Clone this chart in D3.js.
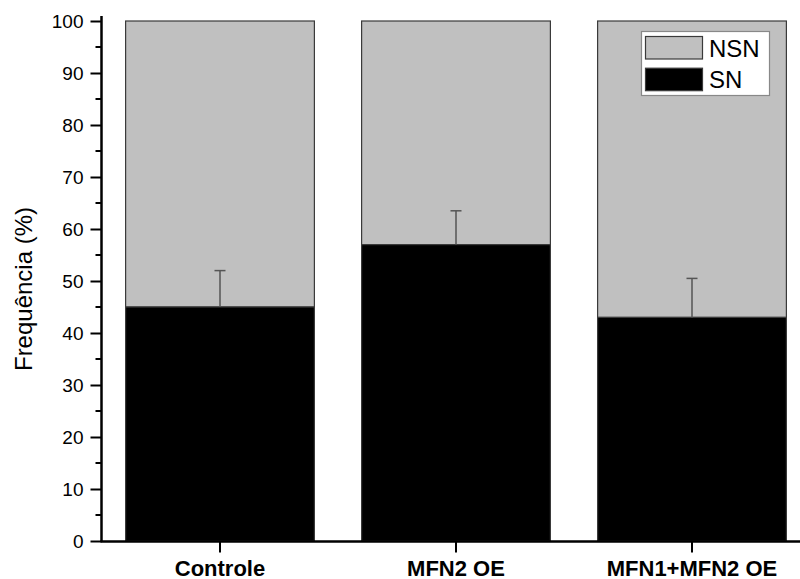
<!DOCTYPE html>
<html>
<head>
<meta charset="utf-8">
<script src="https://cdn.jsdelivr.net/npm/d3@7"></script>
<style>
  html, body { margin: 0; padding: 0; background: #fff; }
  svg { display: block; font-family: Arial, "Liberation Sans", sans-serif; }
</style>
</head>
<body>
<svg id="chart" width="800" height="579"></svg>
<script>
const categories = ["Controle", "MFN2 OE", "MFN1+MFN2 OE"];
const snValues = [45, 57, 43];
const nsnValues = [55, 43, 57];
const snErrors = [7, 6.5, 7.5];
const yTicks = [0, 10, 20, 30, 40, 50, 60, 70, 80, 90, 100];
const seriesNames = ["NSN", "SN"];

const svg = d3.select("#chart");
const x0 = 102, x1 = 810, yBottom = 541, yTop = 21;

const x = d3.scaleBand().domain(categories).range([x0, x1])
  .paddingInner(0.2).paddingOuter(0.1);
const y = d3.scaleLinear().domain([0, 100]).range([yBottom, yTop]);

const rows = categories.map((c, i) => ({ cat: c, sn: snValues[i], nsn: nsnValues[i], err: snErrors[i] }));

// NSN (grey) on top of SN
svg.append("g").selectAll("rect").data(rows).join("rect")
  .attr("x", d => x(d.cat))
  .attr("width", x.bandwidth())
  .attr("y", d => y(d.sn + d.nsn))
  .attr("height", d => y(d.sn) - y(d.sn + d.nsn))
  .attr("fill", "#c0c0c0")
  .attr("stroke", "#3a3a3a")
  .attr("stroke-width", 1.2);

// SN (black)
svg.append("g").selectAll("rect").data(rows).join("rect")
  .attr("x", d => x(d.cat))
  .attr("width", x.bandwidth())
  .attr("y", d => y(d.sn))
  .attr("height", d => y(0) - y(d.sn))
  .attr("fill", "#000")
  .attr("stroke", "#3a3a3a")
  .attr("stroke-width", 1.2);

// error bars
const eg = svg.append("g").attr("stroke", "#555").attr("stroke-width", 1.5);
rows.forEach(d => {
  const cx = x(d.cat) + x.bandwidth() / 2;
  eg.append("line").attr("x1", cx).attr("x2", cx)
    .attr("y1", y(d.sn)).attr("y2", y(d.sn + d.err));
  eg.append("line").attr("x1", cx - 5.5).attr("x2", cx + 5.5)
    .attr("y1", y(d.sn + d.err)).attr("y2", y(d.sn + d.err));
});

// Y axis
const yAxis = svg.append("g").attr("transform", `translate(${x0 - 0.5},0)`);
yAxis.call(d3.axisLeft(y).tickValues(yTicks).tickSize(11).tickPadding(7).tickFormat(d3.format("d")));
yAxis.select(".domain").remove();
yAxis.selectAll(".tick line").attr("stroke", "#000").attr("stroke-width", 2);
yAxis.selectAll(".tick text").attr("font-size", 19).attr("fill", "#000")
  .attr("font-family", "Arial, 'Liberation Sans', sans-serif");
// minor ticks
const minor = d3.range(5, 100, 10);
yAxis.append("g").selectAll("line").data(minor).join("line")
  .attr("x1", -6).attr("x2", 0)
  .attr("y1", d => y(d)).attr("y2", d => y(d))
  .attr("stroke", "#000").attr("stroke-width", 2);
yAxis.append("line").attr("x1", 0).attr("x2", 0)
  .attr("y1", 16).attr("y2", yBottom + 1)
  .attr("stroke", "#000").attr("stroke-width", 2.5);

// X axis
const xAxis = svg.append("g").attr("transform", `translate(0,${yBottom + 0.5})`);
xAxis.call(d3.axisBottom(x).tickSize(11));
xAxis.select(".domain").remove();
xAxis.selectAll(".tick line").attr("stroke", "#000").attr("stroke-width", 2);
xAxis.selectAll(".tick text")
  .attr("y", 34).attr("dy", null)
  .attr("font-size", 22).attr("font-weight", "bold").attr("fill", "#000")
  .attr("font-family", "Arial, 'Liberation Sans', sans-serif");
xAxis.append("line").attr("x1", x0 - 1.5).attr("x2", 800).attr("y1", 0).attr("y2", 0)
  .attr("stroke", "#000").attr("stroke-width", 2.5);

// Y label
svg.append("text")
  .attr("transform", "translate(32,289) rotate(-90)")
  .attr("text-anchor", "middle")
  .attr("font-size", 24)
  .attr("fill", "#000")
  .text("Frequência (%)");

// Legend
const lg = svg.append("g");
lg.append("rect").attr("x", 641.5).attr("y", 31.5).attr("width", 128).attr("height", 64)
  .attr("fill", "#fff").attr("stroke", "#888").attr("stroke-width", 1.2);
const legendFill = { NSN: "#c0c0c0", SN: "#000" };
seriesNames.forEach((s, i) => {
  const yy = 36 + i * 31.7;
  lg.append("rect").attr("x", 645.5).attr("y", yy + 0.5).attr("width", 57).attr("height", 22.5)
    .attr("fill", legendFill[s]).attr("stroke", "#3a3a3a").attr("stroke-width", 1.2);
  lg.append("text").attr("x", 709).attr("y", yy + 20.5)
    .attr("font-size", 24).attr("fill", "#000").text(s);
});
</script>
</body>
</html>
